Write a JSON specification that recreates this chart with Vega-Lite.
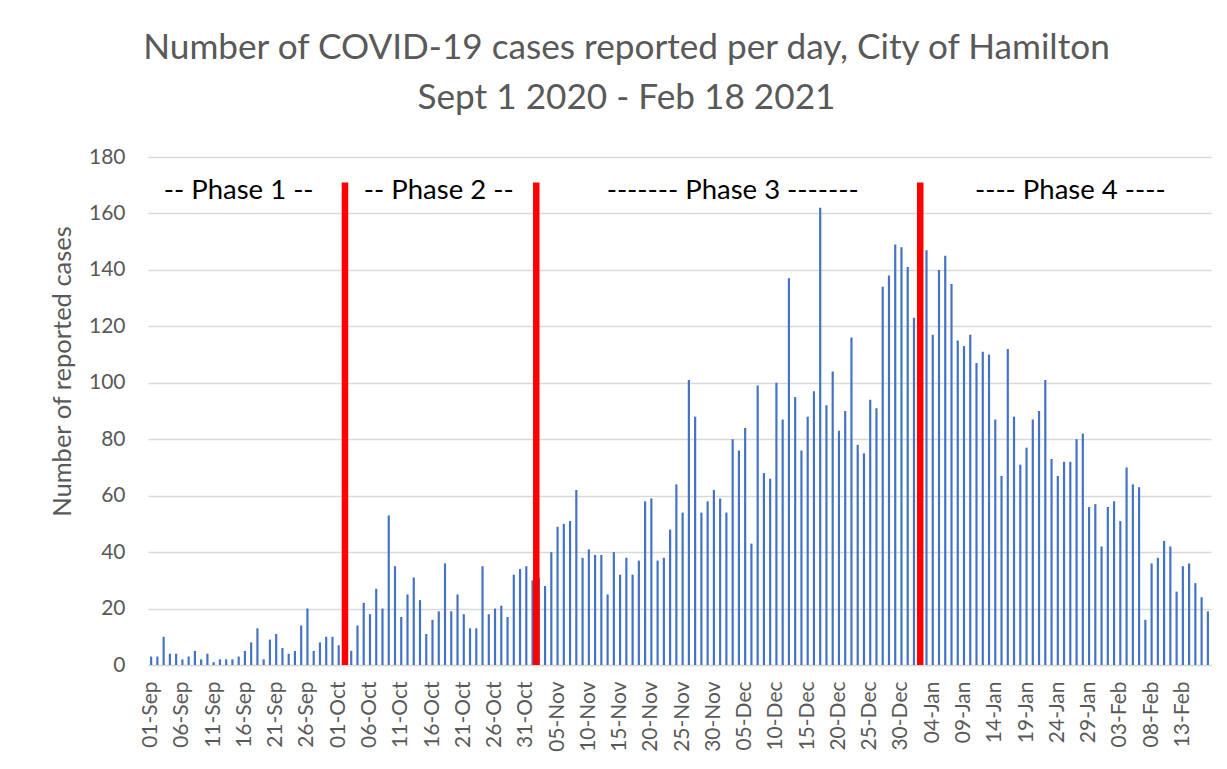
{
  "$schema": "https://vega.github.io/schema/vega-lite/v6.json",
  "autosize": {"type": "none"},
  "width": 1063,
  "height": 508,
  "padding": {"left": 148, "top": 157, "right": 16, "bottom": 104},
  "background": "white",
  "config": {
    "font": "Lato",
    "view": {"stroke": null}
  },
  "title": {
    "text": ["Number of COVID-19 cases reported per day, City of Hamilton", "Sept 1 2020 - Feb 18 2021"],
    "font": "Lato",
    "fontSize": 35.2,
    "fontWeight": "normal",
    "color": "#595959",
    "anchor": "middle",
    "frame": "group",
    "dx": -53,
    "offset": 30,
    "lineHeight": 50
  },
  "datasets": {
    "cases": [
      {"date": "2020-09-01", "cases": 3}, {"date": "2020-09-02", "cases": 3}, {"date": "2020-09-03", "cases": 10}, {"date": "2020-09-04", "cases": 4}, {"date": "2020-09-05", "cases": 4},
      {"date": "2020-09-06", "cases": 2}, {"date": "2020-09-07", "cases": 3}, {"date": "2020-09-08", "cases": 5}, {"date": "2020-09-09", "cases": 2}, {"date": "2020-09-10", "cases": 4},
      {"date": "2020-09-11", "cases": 1}, {"date": "2020-09-12", "cases": 2}, {"date": "2020-09-13", "cases": 2}, {"date": "2020-09-14", "cases": 2}, {"date": "2020-09-15", "cases": 3},
      {"date": "2020-09-16", "cases": 5}, {"date": "2020-09-17", "cases": 8}, {"date": "2020-09-18", "cases": 13}, {"date": "2020-09-19", "cases": 2}, {"date": "2020-09-20", "cases": 9},
      {"date": "2020-09-21", "cases": 11}, {"date": "2020-09-22", "cases": 6}, {"date": "2020-09-23", "cases": 4}, {"date": "2020-09-24", "cases": 5}, {"date": "2020-09-25", "cases": 14},
      {"date": "2020-09-26", "cases": 20}, {"date": "2020-09-27", "cases": 5}, {"date": "2020-09-28", "cases": 8}, {"date": "2020-09-29", "cases": 10}, {"date": "2020-09-30", "cases": 10},
      {"date": "2020-10-01", "cases": 7}, {"date": "2020-10-02", "cases": 6}, {"date": "2020-10-03", "cases": 5}, {"date": "2020-10-04", "cases": 14}, {"date": "2020-10-05", "cases": 22},
      {"date": "2020-10-06", "cases": 18}, {"date": "2020-10-07", "cases": 27}, {"date": "2020-10-08", "cases": 20}, {"date": "2020-10-09", "cases": 53}, {"date": "2020-10-10", "cases": 35},
      {"date": "2020-10-11", "cases": 17}, {"date": "2020-10-12", "cases": 25}, {"date": "2020-10-13", "cases": 31}, {"date": "2020-10-14", "cases": 23}, {"date": "2020-10-15", "cases": 11},
      {"date": "2020-10-16", "cases": 16}, {"date": "2020-10-17", "cases": 19}, {"date": "2020-10-18", "cases": 36}, {"date": "2020-10-19", "cases": 19}, {"date": "2020-10-20", "cases": 25},
      {"date": "2020-10-21", "cases": 18}, {"date": "2020-10-22", "cases": 13}, {"date": "2020-10-23", "cases": 13}, {"date": "2020-10-24", "cases": 35}, {"date": "2020-10-25", "cases": 18},
      {"date": "2020-10-26", "cases": 20}, {"date": "2020-10-27", "cases": 21}, {"date": "2020-10-28", "cases": 17}, {"date": "2020-10-29", "cases": 32}, {"date": "2020-10-30", "cases": 34},
      {"date": "2020-10-31", "cases": 35}, {"date": "2020-11-01", "cases": 30}, {"date": "2020-11-02", "cases": 31}, {"date": "2020-11-03", "cases": 28}, {"date": "2020-11-04", "cases": 40},
      {"date": "2020-11-05", "cases": 49}, {"date": "2020-11-06", "cases": 50}, {"date": "2020-11-07", "cases": 51}, {"date": "2020-11-08", "cases": 62}, {"date": "2020-11-09", "cases": 38},
      {"date": "2020-11-10", "cases": 41}, {"date": "2020-11-11", "cases": 39}, {"date": "2020-11-12", "cases": 39}, {"date": "2020-11-13", "cases": 25}, {"date": "2020-11-14", "cases": 40},
      {"date": "2020-11-15", "cases": 32}, {"date": "2020-11-16", "cases": 38}, {"date": "2020-11-17", "cases": 32}, {"date": "2020-11-18", "cases": 37}, {"date": "2020-11-19", "cases": 58},
      {"date": "2020-11-20", "cases": 59}, {"date": "2020-11-21", "cases": 37}, {"date": "2020-11-22", "cases": 38}, {"date": "2020-11-23", "cases": 48}, {"date": "2020-11-24", "cases": 64},
      {"date": "2020-11-25", "cases": 54}, {"date": "2020-11-26", "cases": 101}, {"date": "2020-11-27", "cases": 88}, {"date": "2020-11-28", "cases": 54}, {"date": "2020-11-29", "cases": 58},
      {"date": "2020-11-30", "cases": 62}, {"date": "2020-12-01", "cases": 59}, {"date": "2020-12-02", "cases": 54}, {"date": "2020-12-03", "cases": 80}, {"date": "2020-12-04", "cases": 76},
      {"date": "2020-12-05", "cases": 84}, {"date": "2020-12-06", "cases": 43}, {"date": "2020-12-07", "cases": 99}, {"date": "2020-12-08", "cases": 68}, {"date": "2020-12-09", "cases": 66},
      {"date": "2020-12-10", "cases": 100}, {"date": "2020-12-11", "cases": 87}, {"date": "2020-12-12", "cases": 137}, {"date": "2020-12-13", "cases": 95}, {"date": "2020-12-14", "cases": 76},
      {"date": "2020-12-15", "cases": 88}, {"date": "2020-12-16", "cases": 97}, {"date": "2020-12-17", "cases": 162}, {"date": "2020-12-18", "cases": 92}, {"date": "2020-12-19", "cases": 104},
      {"date": "2020-12-20", "cases": 83}, {"date": "2020-12-21", "cases": 90}, {"date": "2020-12-22", "cases": 116}, {"date": "2020-12-23", "cases": 78}, {"date": "2020-12-24", "cases": 75},
      {"date": "2020-12-25", "cases": 94}, {"date": "2020-12-26", "cases": 91}, {"date": "2020-12-27", "cases": 134}, {"date": "2020-12-28", "cases": 138}, {"date": "2020-12-29", "cases": 149},
      {"date": "2020-12-30", "cases": 148}, {"date": "2020-12-31", "cases": 141}, {"date": "2021-01-01", "cases": 123}, {"date": "2021-01-02", "cases": 130}, {"date": "2021-01-03", "cases": 147},
      {"date": "2021-01-04", "cases": 117}, {"date": "2021-01-05", "cases": 140}, {"date": "2021-01-06", "cases": 145}, {"date": "2021-01-07", "cases": 135}, {"date": "2021-01-08", "cases": 115},
      {"date": "2021-01-09", "cases": 113}, {"date": "2021-01-10", "cases": 117}, {"date": "2021-01-11", "cases": 107}, {"date": "2021-01-12", "cases": 111}, {"date": "2021-01-13", "cases": 110},
      {"date": "2021-01-14", "cases": 87}, {"date": "2021-01-15", "cases": 67}, {"date": "2021-01-16", "cases": 112}, {"date": "2021-01-17", "cases": 88}, {"date": "2021-01-18", "cases": 71},
      {"date": "2021-01-19", "cases": 77}, {"date": "2021-01-20", "cases": 87}, {"date": "2021-01-21", "cases": 90}, {"date": "2021-01-22", "cases": 101}, {"date": "2021-01-23", "cases": 73},
      {"date": "2021-01-24", "cases": 67}, {"date": "2021-01-25", "cases": 72}, {"date": "2021-01-26", "cases": 72}, {"date": "2021-01-27", "cases": 80}, {"date": "2021-01-28", "cases": 82},
      {"date": "2021-01-29", "cases": 56}, {"date": "2021-01-30", "cases": 57}, {"date": "2021-01-31", "cases": 42}, {"date": "2021-02-01", "cases": 56}, {"date": "2021-02-02", "cases": 58},
      {"date": "2021-02-03", "cases": 51}, {"date": "2021-02-04", "cases": 70}, {"date": "2021-02-05", "cases": 64}, {"date": "2021-02-06", "cases": 63}, {"date": "2021-02-07", "cases": 16},
      {"date": "2021-02-08", "cases": 36}, {"date": "2021-02-09", "cases": 38}, {"date": "2021-02-10", "cases": 44}, {"date": "2021-02-11", "cases": 42}, {"date": "2021-02-12", "cases": 26},
      {"date": "2021-02-13", "cases": 35}, {"date": "2021-02-14", "cases": 36}, {"date": "2021-02-15", "cases": 29}, {"date": "2021-02-16", "cases": 24}, {"date": "2021-02-17", "cases": 19}
    ],
    "boundaries": [{"date": "2020-10-02"}, {"date": "2021-01-02"}],
    "boundaryNov": [{"date": "2020-11-01"}],
    "phases": [
      {"date": "2020-09-15", "label": "-- Phase 1 --"},
      {"date": "2020-10-17", "label": "-- Phase 2 --"},
      {"date": "2020-12-03", "label": "------- Phase 3 -------"},
      {"date": "2021-01-26", "label": "---- Phase 4 ----"}
    ]
  },
  "layer": [
    {
      "data": {"name": "cases"},
      "mark": {"type": "bar", "color": "#4472C4"},
      "encoding": {
        "x": {
          "field": "date",
          "type": "ordinal",
          "sort": "ascending",
          "scale": {"paddingInner": 0.65, "paddingOuter": 0.325},
          "axis": {
            "title": null,
            "values": ["2020-09-01","2020-09-06","2020-09-11","2020-09-16","2020-09-21","2020-09-26","2020-10-01","2020-10-06","2020-10-11","2020-10-16","2020-10-21","2020-10-26","2020-10-31","2020-11-05","2020-11-10","2020-11-15","2020-11-20","2020-11-25","2020-11-30","2020-12-05","2020-12-10","2020-12-15","2020-12-20","2020-12-25","2020-12-30","2021-01-04","2021-01-09","2021-01-14","2021-01-19","2021-01-24","2021-01-29","2021-02-03","2021-02-08","2021-02-13"],
            "labelExpr": "utcFormat(toDate(datum.value), '%d-%b')",
            "labelAngle": 270,
            "labelAlign": "right",
            "labelBaseline": "middle",
            "labelFontSize": 21,
            "labelColor": "#595959",
            "labelPadding": 16,
            "labelOverlap": false,
            "ticks": false,
            "tickSize": 0,
            "domainColor": "#d9d9d9",
            "domainWidth": 1.5,
            "grid": false
          }
        },
        "y": {
          "field": "cases",
          "type": "quantitative",
          "scale": {"domain": [0, 180], "nice": false},
          "axis": {
            "title": "Number of reported cases",
            "values": [0, 20, 40, 60, 80, 100, 120, 140, 160, 180],
            "labelFontSize": 21,
            "labelColor": "#595959",
            "labelPadding": 23,
            "ticks": false,
            "tickSize": 0,
            "domain": false,
            "grid": true,
            "gridColor": "#d9d9d9",
            "gridWidth": 1.5,
            "titleFontSize": 25.5,
            "titleFontWeight": "normal",
            "titleColor": "#595959",
            "titleAngle": 270,
            "titleAlign": "center",
            "titleBaseline": "bottom",
            "titleX": -73,
            "titleY": 214
          }
        }
      }
    },
    {
      "data": {"name": "boundaries"},
      "mark": {"type": "rule", "color": "#FF0000", "strokeWidth": 6.5},
      "encoding": {
        "x": {"field": "date", "type": "ordinal", "sort": "ascending"},
        "y": {"datum": 0},
        "y2": {"datum": 171}
      }
    },
    {
      "data": {"name": "boundaryNov"},
      "mark": {"type": "rule", "color": "#FF0000", "strokeWidth": 6.5},
      "encoding": {
        "x": {"field": "date", "type": "ordinal", "sort": "ascending", "bandPosition": 2.2},
        "y": {"datum": 0},
        "y2": {"datum": 171}
      }
    },
    {
      "data": {"name": "phases"},
      "mark": {"type": "text", "font": "Lato", "fontSize": 27.5, "color": "#000000", "align": "center", "baseline": "middle"},
      "encoding": {
        "x": {"field": "date", "type": "ordinal", "sort": "ascending"},
        "y": {"datum": 168},
        "text": {"field": "label"}
      }
    }
  ]
}
